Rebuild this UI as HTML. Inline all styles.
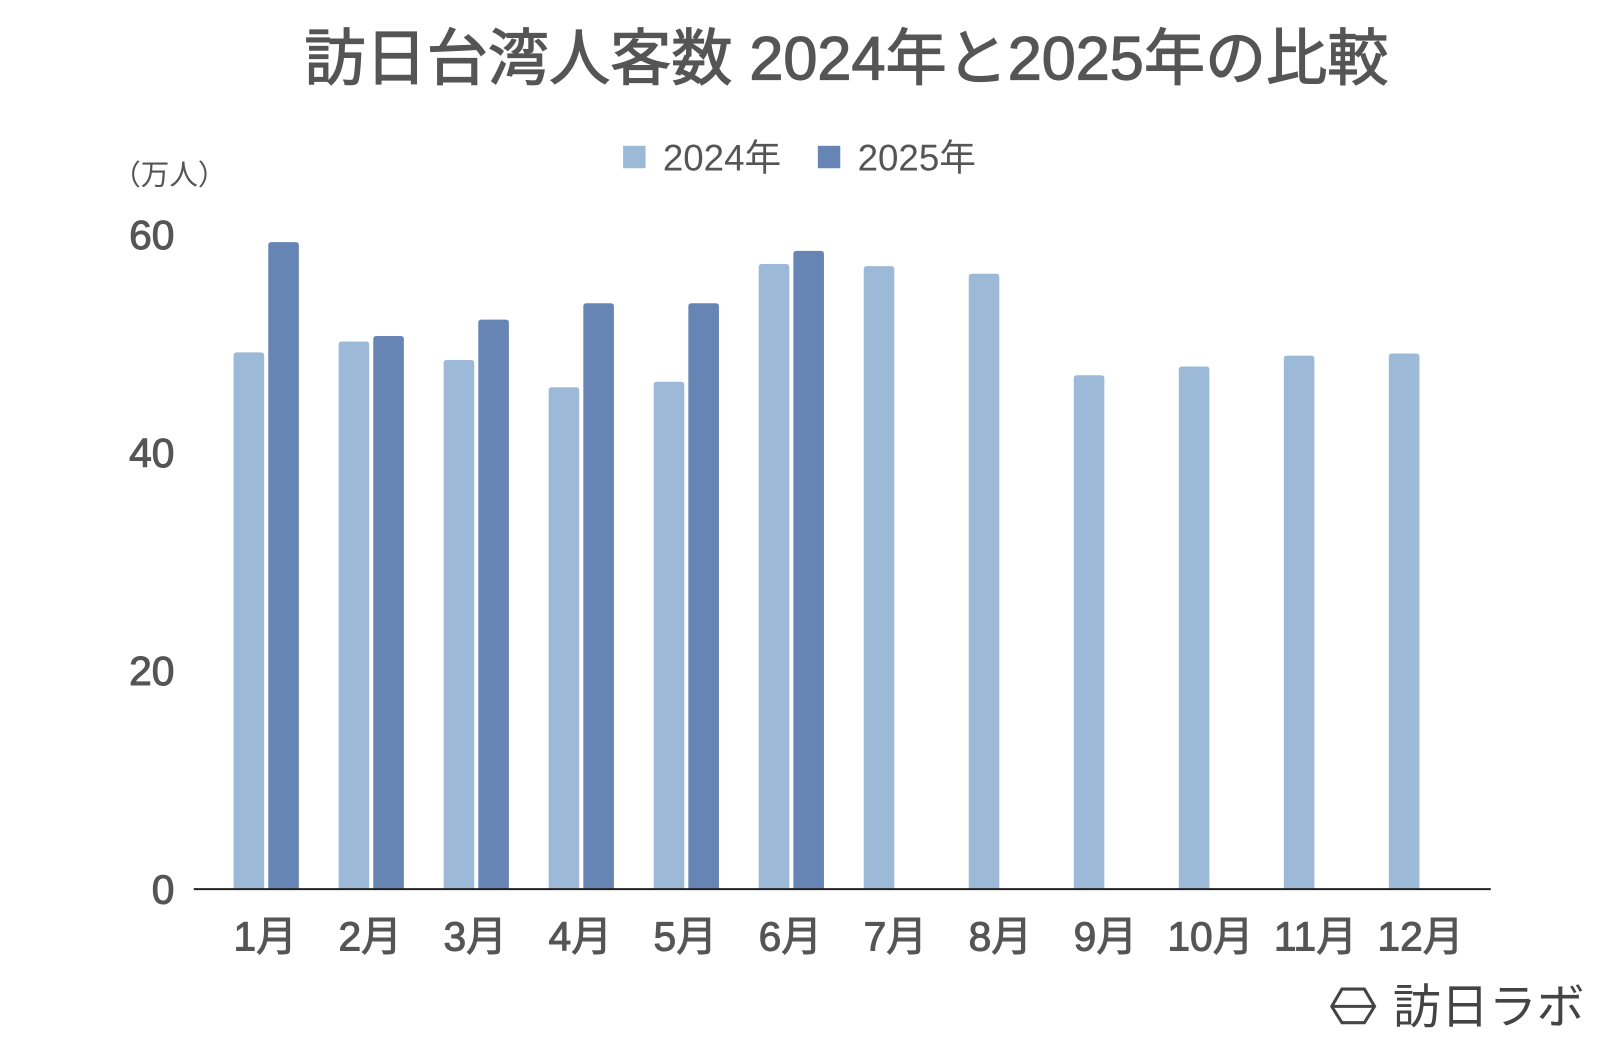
<!DOCTYPE html>
<html><head><meta charset="utf-8"><style>
html,body{margin:0;padding:0;background:#fff;}
body{width:1600px;height:1038px;overflow:hidden;font-family:"Liberation Sans","Noto Sans CJK JP",sans-serif;}
svg text{font-family:"Liberation Sans","Noto Sans CJK JP",sans-serif;}
</style></head><body>
<svg id="chart" width="1600" height="1038" viewBox="0 0 1569 1018" xmlns="http://www.w3.org/2000/svg">
<text x="830" y="78" font-size="60" fill="#555" stroke="#555" stroke-width="1.2" text-anchor="middle">訪日台湾人客数 2024年と2025年の比較</text>
<g>
<rect x="611" y="143" width="22" height="22" fill="#9db9d8"/>
<text x="650" y="167" font-size="36" fill="#555">2024年</text>
<rect x="802" y="143" width="22" height="22" fill="#6685b4"/>
<text x="841" y="167" font-size="36" fill="#555">2025年</text>
</g>
<text x="110" y="181" font-size="28" fill="#555">（万人）</text>
<g id="yticks"></g>
<g id="bars"></g>
<line x1="190" y1="872" x2="1462" y2="872" stroke="#222" stroke-width="2"/>
<g id="xlabels"></g>
<g>
<polygon points="1306,987 1316,970 1338,970 1348,987 1338,1003 1316,1003" fill="none" stroke="#444" stroke-width="3"/>
<line x1="1306" y1="987" x2="1348" y2="987" stroke="#444" stroke-width="3"/>
<text x="1366" y="1004" font-size="47" fill="#444">訪日ラボ</text>
</g>
</svg>
<script>
const categories=["1月","2月","3月","4月","5月","6月","7月","8月","9月","10月","11月","12月"];
const values2024=[49.2,50.2,48.5,46.0,46.5,57.3,57.1,56.4,47.1,47.9,48.9,49.1];
const values2025=[59.3,50.7,52.2,53.7,53.7,58.5];
const yTicks=[0,20,40,60];
const NS="http://www.w3.org/2000/svg";
const y0=872,pxPerUnit=10.7;
function yScale(v){return y0-v*pxPerUnit;}
function xGroup(i){return 229+i*103;}
const bw=30;
const yt=document.getElementById('yticks');
yTicks.forEach(t=>{const e=document.createElementNS(NS,'text');


e.setAttribute('x',171);e.setAttribute('y',yScale(t)+14);e.setAttribute('font-size','40');e.setAttribute('fill','#555');e.setAttribute('stroke','#555');e.setAttribute('stroke-width','1');e.setAttribute('text-anchor','end');e.textContent=t;yt.appendChild(e);});
const bars=document.getElementById('bars');
function bar(x,v,color,name){const r=document.createElementNS(NS,'path');


const top=yScale(v),rr=3;
r.setAttribute('d',`M${x},${y0}V${top+rr}Q${x},${top} ${x+rr},${top}H${x+bw-rr}Q${x+bw},${top} ${x+bw},${top+rr}V${y0}Z`);
r.setAttribute('fill',color);bars.appendChild(r);}
values2024.forEach((v,i)=>bar(xGroup(i),v,'#9db9d8','bar-2024-'+(i+1)));
values2025.forEach((v,i)=>bar(xGroup(i)+34,v,'#6685b4','bar-2025-'+(i+1)));
const xl=document.getElementById('xlabels');
categories.forEach((c,i)=>{const e=document.createElementNS(NS,'text');


e.setAttribute('x',xGroup(i)+31);e.setAttribute('y',932);e.setAttribute('font-size','40');e.setAttribute('fill','#555');e.setAttribute('stroke','#555');e.setAttribute('stroke-width','1');e.setAttribute('text-anchor','middle');e.textContent=c;xl.appendChild(e);});
</script>
</body></html>
